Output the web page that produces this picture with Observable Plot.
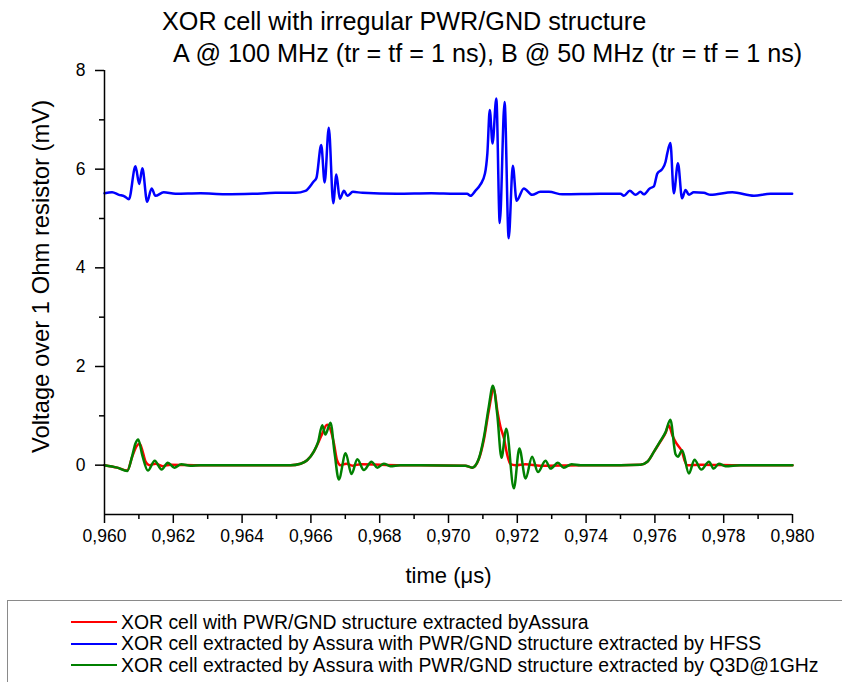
<!DOCTYPE html>
<html>
<head>
<meta charset="utf-8">
<script src="https://cdn.jsdelivr.net/npm/d3@7"></script>
<script src="https://cdn.jsdelivr.net/npm/@observablehq/plot@0.6"></script>
<style>
  body { margin: 0; background: #fff; font-family: "Liberation Sans", Arial, sans-serif; }
  #chart { position: relative; width: 842px; height: 682px; overflow: hidden; background: #fff; }
  #chart svg { position: absolute; left: 0; top: 0; }
  .title { position: absolute; font-size: 25.2px; line-height: 1; white-space: nowrap; color: #000; }
  .legend { position: absolute; left: 7px; top: 600px; width: 860px; height: 120px; border: 1px solid #8a8a8a; box-sizing: border-box; }
  .item { position: absolute; left: 63px; height: 20px; display: flex; align-items: center; font-size: 19.4px; white-space: nowrap; color: #000; }
  .swatch { display: inline-block; width: 46px; height: 2px; margin-right: 4px; }
</style>
</head>
<body>
<div id="chart">
  <div class="title" style="left:162px; top:9px;">XOR cell with irregular PWR/GND structure</div>
  <div class="title" style="left:173px; top:41px;">A @ 100 MHz (tr = tf = 1 ns), B @ 50 MHz (tr = tf = 1 ns)</div>
  <div class="legend" id="legend"></div>
</div>
<script>
// Time axis in microseconds, voltage in mV.

// Assura extraction (red)
const redTime = [0.96000,0.96037,0.96066,0.96081,0.96093,0.96102,0.96110,0.96119,0.96131,0.96148,0.96169,0.96192,0.96279,
  0.96541,0.96570,0.96589,0.96608,0.96621,0.96633,0.96647,0.96657,0.96667,0.96676,0.96686,0.96703,0.96721,0.96744,0.96860,
  0.96919,0.97049,0.97069,0.97088,0.97103,0.97117,0.97132,0.97142,0.97151,0.97161,0.97171,0.97180,0.97195,0.97224,0.97267,0.97384,
  0.97500,0.97558,0.97578,0.97597,0.97616,0.97631,0.97640,0.97651,0.97660,0.97669,0.97679,0.97686,0.97694,0.97733,0.97849,0.98000];
const redVoltage = [0.00,-0.05,-0.11,0.18,0.38,0.44,0.30,0.08,0.00,0.03,-0.02,0.01,0.00,
  0.00,0.03,0.10,0.27,0.45,0.64,0.82,0.72,0.44,0.10,0.00,0.03,-0.01,0.02,0.00,
  0.00,-0.01,-0.05,0.12,0.52,1.10,1.55,1.10,0.78,0.55,0.20,0.02,0.00,0.02,-0.01,0.00,
  0.00,0.01,0.07,0.27,0.48,0.65,0.81,0.60,0.47,0.38,0.27,0.10,0.00,0.01,0.00,0.00];

// PWR/GND structure extracted by HFSS (blue)
const blueTime = [0.96000,0.96022,0.96042,0.96058,0.96071,0.96090,0.96101,0.96110,0.96124,0.96137,0.96148,0.96172,0.96206,0.96279,
  0.96350,0.96430,0.96497,0.96555,0.96584,0.96608,0.96616,0.96630,0.96640,0.96652,0.96665,0.96674,0.96684,0.96696,0.96706,0.96722,
  0.96750,0.96850,0.96950,0.97020,0.97054,0.97064,0.97078,0.97093,0.97106,0.97113,0.97120,0.97128,0.97139,0.97149,0.97163,0.97175,
  0.97187,0.97198,0.97219,0.97243,0.97267,0.97292,0.97331,0.97442,0.97500,0.97510,0.97527,0.97544,0.97558,0.97568,0.97585,0.97597,
  0.97607,0.97621,0.97631,0.97636,0.97645,0.97655,0.97667,0.97679,0.97689,0.97699,0.97713,0.97742,0.97762,0.97825,0.97888,0.97936,0.97999];
const blueVoltage = [5.51,5.53,5.48,5.45,5.39,6.06,5.70,6.02,5.34,5.61,5.46,5.53,5.50,5.51,
  5.49,5.50,5.52,5.52,5.56,5.75,5.82,6.49,5.73,6.84,5.31,5.89,5.40,5.56,5.46,5.54,
  5.52,5.50,5.51,5.50,5.50,5.46,5.56,5.69,5.91,6.32,7.20,6.52,7.43,4.91,7.36,4.60,
  6.07,5.36,5.61,5.48,5.54,5.54,5.49,5.50,5.50,5.46,5.56,5.48,5.54,5.49,5.61,5.65,
  5.91,6.00,6.15,6.32,6.53,5.51,6.12,5.41,5.58,5.48,5.53,5.52,5.48,5.53,5.46,5.50,5.50];

// PWR/GND structure extracted by Q3D at 1 GHz (green)
const greenTime = [0.96000,0.96037,0.96066,0.96081,0.96090,0.96098,0.96110,0.96126,0.96146,0.96166,0.96184,0.96203,0.96223,0.96250,0.96279,
  0.96400,0.96541,0.96570,0.96589,0.96608,0.96621,0.96633,0.96642,0.96657,0.96669,0.96681,0.96701,0.96718,0.96735,0.96754,0.96776,
  0.96793,0.96812,0.96831,0.96860,0.96919,0.97049,0.97069,0.97088,0.97103,0.97117,0.97129,0.97142,0.97154,0.97168,0.97190,0.97206,
  0.97224,0.97243,0.97260,0.97282,0.97297,0.97318,0.97335,0.97358,0.97384,0.97500,0.97558,0.97578,0.97597,0.97616,0.97631,0.97645,
  0.97660,0.97667,0.97679,0.97699,0.97715,0.97735,0.97757,0.97771,0.97786,0.97805,0.97849,0.98000];
const greenVoltage = [0.00,-0.05,-0.12,0.20,0.44,0.52,0.20,-0.11,0.09,-0.09,0.05,-0.05,0.02,-0.01,0.00,
  0.00,0.00,0.03,0.10,0.27,0.47,0.81,0.62,0.86,0.24,-0.29,0.24,-0.18,0.12,-0.10,0.07,
  -0.05,0.03,-0.02,0.00,0.00,-0.01,-0.05,0.13,0.57,1.18,1.61,1.01,0.15,0.74,-0.47,0.34,
  -0.27,0.17,-0.14,0.09,-0.07,0.05,-0.05,0.02,0.00,0.00,0.01,0.07,0.27,0.49,0.67,0.92,
  0.22,0.17,0.30,-0.17,0.11,-0.09,0.07,-0.07,0.03,-0.02,0.00,0.00];

// Axis ticks
const xMajorTicks = [0.960,0.962,0.964,0.966,0.968,0.970,0.972,0.974,0.976,0.978,0.980];
const xMinorTicks = [0.961,0.963,0.965,0.967,0.969,0.971,0.973,0.975,0.977,0.979];
const yMajorTicks = [0,2,4,6,8];
const yMinorTicks = [1,3,5,7];

const seriesNames = [
  "XOR cell with PWR/GND structure extracted byAssura",
  "XOR cell extracted by Assura with PWR/GND structure extracted by HFSS",
  "XOR cell extracted by Assura with PWR/GND structure extracted by Q3D@1GHz"
];
const seriesColors = ["#ff0000", "#0000ff", "#008000"];

const toRows = (ts, vs) => ts.map((t, i) => ({t, v: vs[i]}));
const red = toRows(redTime, redVoltage);
const blue = toRows(blueTime, blueVoltage);
const green = toRows(greenTime, greenVoltage);

const commaDecimal = d => d3.format(".3f")(d).replace(".", ",");
const font = "'Liberation Sans', Arial, sans-serif";

const chart = Plot.plot({
  width: 842,
  height: 600,
  marginLeft: 104,
  marginRight: 50,
  marginTop: 70,
  marginBottom: 86,
  x: {domain: [0.960, 0.980]},
  y: {domain: [-1, 8]},
  style: {fontFamily: font, fontSize: "17px", color: "#000", background: "transparent", overflow: "visible"},
  marks: [
    Plot.line(red, {x: "t", y: "v", stroke: seriesColors[0], strokeWidth: 2.5, curve: "monotone-x"}),
    Plot.line(blue, {x: "t", y: "v", stroke: seriesColors[1], strokeWidth: 2.5, curve: "monotone-x"}),
    Plot.line(green, {x: "t", y: "v", stroke: seriesColors[2], strokeWidth: 2.5, curve: "monotone-x"}),
    Plot.axisX(xMajorTicks, {tickSize: 9, tickPadding: 6, tickFormat: commaDecimal, fontSize: 17.5, strokeWidth: 1.5, label: null}),
    Plot.axisX(xMinorTicks, {tickSize: 5, tickFormat: () => "", strokeWidth: 1.5, label: null}),
    Plot.axisY(yMajorTicks, {tickSize: 9, tickPadding: 10, fontSize: 17.5, strokeWidth: 1.5, label: null}),
    Plot.axisY(yMinorTicks, {tickSize: 5, tickFormat: () => "", strokeWidth: 1.5, label: null}),
    Plot.ruleX([0.960], {strokeWidth: 1.5}),
    Plot.ruleY([-1], {strokeWidth: 1.5}),
    Plot.text(["time (μs)"], {text: d => d, frameAnchor: "bottom", lineAnchor: "middle", dy: 61, fontSize: 22}),
    Plot.text(["Voltage over 1 Ohm resistor (mV)"], {text: d => d, frameAnchor: "left", textAnchor: "middle", lineAnchor: "middle", rotate: -90, dx: -63, dy: -16, fontSize: 23.8})
  ]
});
document.getElementById("chart").prepend(chart);

// Legend rows
const legend = document.getElementById("legend");
seriesNames.forEach((name, i) => {
  const row = document.createElement("div");
  row.className = "item";
  row.style.top = (11 + i * 21.5) + "px";
  const sw = document.createElement("span");
  sw.className = "swatch";
  sw.style.background = seriesColors[i];
  row.appendChild(sw);
  row.appendChild(document.createTextNode(name));
  legend.appendChild(row);
});
</script>
</body>
</html>
